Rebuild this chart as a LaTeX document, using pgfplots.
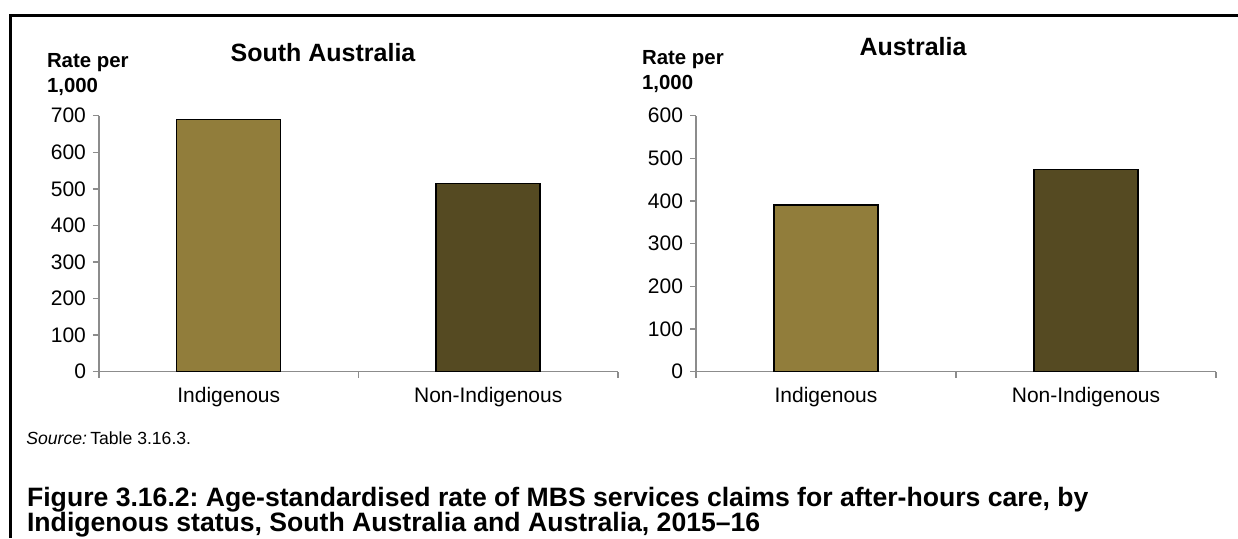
\documentclass[border=0pt]{standalone}
\usepackage{fontspec}
\setmainfont{Liberation Sans}
\usepackage{pgfplots}
\pgfplotsset{compat=1.18}
\frenchspacing
\definecolor{barlight}{HTML}{917D3B}
\definecolor{bardark}{HTML}{554A22}
\definecolor{axisgray}{HTML}{8C8C8C}
\pgfplotsset{
  mybars/.style={
    scale only axis, anchor=south west,
    height=128pt,
    xmin=-0.5, xmax=1.5, ymin=0,
    xtick={0,1}, xticklabels={Indigenous,Non-Indigenous},
    minor xtick={-0.5,0.5,1.5},
    x tick style={draw=none},
    minor x tick style={draw=axisgray, line width=0.75pt},
    y tick style={draw=axisgray, line width=0.75pt},
    tick align=outside,
    major tick length=3pt, minor tick length=3pt,
    axis x line*=bottom, axis y line*=left,
    axis line style={-, draw=axisgray, line width=0.75pt},
    ticklabel style={font=\fontsize{10.5}{12}\selectfont},
    xticklabel style={yshift=-1.5pt},
    /pgf/number format/assume math mode=true,
    ybar, bar width=52pt, bar shift=0pt,
    clip=false,
  },
}
\begin{document}
\begin{tikzpicture}
\useasboundingbox (0,0) rectangle (619pt,269pt);
\fill[white] (0,0) rectangle (619pt,269pt);
% frame
\draw[line width=1.5pt] (5.15pt,0) -- (5.15pt,261.5pt) -- (620pt,261.5pt);

\begin{axis}[mybars, at={(49.5pt,83.15pt)}, width=259.5pt, ymax=700, ytick={0,100,...,700}]
\addplot[fill=barlight, draw=black, line width=0.75pt] coordinates {(0,690)};
\addplot[fill=bardark, draw=black, line width=0.75pt] coordinates {(1,515)};
\end{axis}

\begin{axis}[mybars, at={(348pt,83.15pt)}, width=260pt, ymax=600, ytick={0,100,...,600}]
\addplot[fill=barlight, draw=black, line width=0.75pt] coordinates {(0,391)};
\addplot[fill=bardark, draw=black, line width=0.75pt] coordinates {(1,474)};
\end{axis}

% titles
\node[anchor=base, font=\fontsize{12.5}{14}\selectfont\bfseries, inner sep=0] at (161.5pt,238.5pt) {South Australia};
\node[anchor=base, font=\fontsize{12.5}{14}\selectfont\bfseries, inner sep=0] at (456.5pt,241.5pt) {Australia};
% y labels
\node[anchor=base west, font=\fontsize{10.2}{12}\selectfont\bfseries, inner sep=0] at (23.3pt,235.5pt) {Rate per};
\node[anchor=base west, font=\fontsize{10.2}{12}\selectfont\bfseries, inner sep=0] at (23.3pt,223pt) {1,000};
\node[anchor=base west, font=\fontsize{10.2}{12}\selectfont\bfseries, inner sep=0] at (320.85pt,237pt) {Rate per};
\node[anchor=base west, font=\fontsize{10.2}{12}\selectfont\bfseries, inner sep=0] at (320.85pt,224.5pt) {1,000};
% source and caption
\node[anchor=base west, font=\fontsize{8.8}{10.5}\selectfont, inner sep=0] at (13pt,47pt) {\textit{Source:}\hspace{-0.8pt} Table 3.16.3.};
\node[anchor=base west, font=\fontsize{13.3}{15}\selectfont\bfseries, inner sep=0] at (13.35pt,16pt) {Figure 3.16.2: Age-standardised rate of MBS services claims for after-hours care, by};
\node[anchor=base west, font=\fontsize{13.3}{15}\selectfont\bfseries, inner sep=0] at (13.35pt,3.3pt) {Indigenous status, South Australia and Australia, 2015--16};
\end{tikzpicture}
\end{document}
